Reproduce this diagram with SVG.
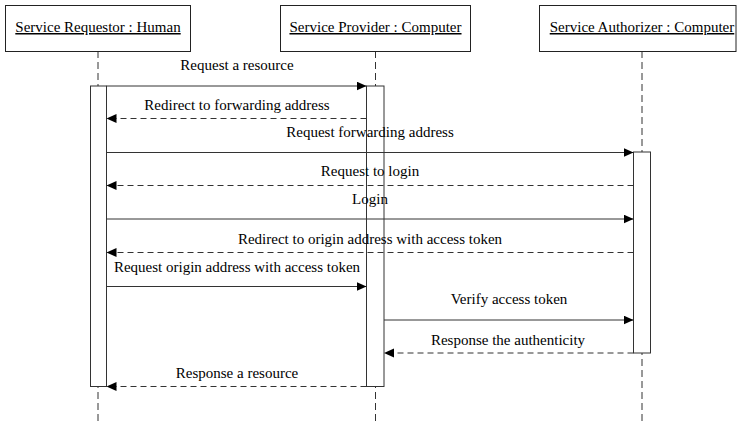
<svg xmlns="http://www.w3.org/2000/svg" width="737" height="421" viewBox="0 0 737 421">
<style>
.box{fill:#fff;stroke:#222;stroke-width:1}
.life{stroke:#333;stroke-width:1;stroke-dasharray:7 4;fill:none}
.bar{fill:#fff;stroke:#333;stroke-width:1}
.msg{stroke:#333;stroke-width:1;fill:none}
.ret{stroke:#333;stroke-width:1;fill:none;stroke-dasharray:6 4}
text{font-family:"Liberation Serif","Times New Roman",serif;font-size:15px;fill:#000}
.hd{text-anchor:middle;text-decoration:underline}
.c{text-anchor:middle}
</style>
<defs>
<marker id="ah" markerUnits="userSpaceOnUse" markerWidth="11" markerHeight="10" refX="10" refY="4.5" orient="auto">
<path d="M0,0 L10,4.5 L0,9 z" fill="#000"/>
</marker>
</defs>
<rect width="737" height="421" fill="#fff"/>
<g id="lifelines">
<line class="life" x1="98" y1="51" x2="98" y2="421"/>
<line class="life" x1="375.5" y1="51" x2="375.5" y2="421"/>
<line class="life" x1="642" y1="51" x2="642" y2="421"/>
</g>
<g id="requestor">
<rect class="box" x="5.5" y="5.5" width="185" height="46"/>
<text class="hd" x="98" y="32">Service Requestor : Human</text>
<rect class="bar" x="90.5" y="86" width="16" height="300.5"/>
</g>
<g id="provider">
<rect class="box" x="280.5" y="5.5" width="190" height="46"/>
<text class="hd" x="375.5" y="32">Service Provider : Computer</text>
<rect class="bar" x="366.5" y="86" width="17.5" height="300.5"/>
</g>
<g id="authorizer">
<rect class="box" x="539.5" y="5.5" width="196.5" height="46"/>
<text class="hd" x="642" y="32">Service Authorizer : Computer</text>
<rect class="bar" x="633.5" y="152" width="17" height="201"/>
</g>
<g id="connectors">
<line class="msg" x1="106.5" y1="86" x2="366.5" y2="86" marker-end="url(#ah)"/>
<text class="c" x="237" y="70">Request a resource</text>
<line class="ret" x1="366.5" y1="118.5" x2="106.5" y2="118.5" marker-end="url(#ah)"/>
<text class="c" x="237" y="110">Redirect to forwarding address</text>
<line class="msg" x1="106.5" y1="152.5" x2="633.5" y2="152.5" marker-end="url(#ah)"/>
<text class="c" x="370" y="137">Request forwarding address</text>
<line class="ret" x1="633.5" y1="185.5" x2="106.5" y2="185.5" marker-end="url(#ah)"/>
<text class="c" x="370" y="176">Request to login</text>
<line class="msg" x1="106.5" y1="219" x2="633.5" y2="219" marker-end="url(#ah)"/>
<text class="c" x="370" y="204">Login</text>
<line class="ret" x1="633.5" y1="252.5" x2="106.5" y2="252.5" marker-end="url(#ah)"/>
<text class="c" x="370" y="244">Redirect to origin address with access token</text>
<line class="msg" x1="106.5" y1="286.5" x2="366.5" y2="286.5" marker-end="url(#ah)"/>
<text class="c" x="237" y="272">Request origin address with access token</text>
<line class="msg" x1="384" y1="320" x2="633.5" y2="320" marker-end="url(#ah)"/>
<text class="c" x="509" y="304">Verify access token</text>
<line class="ret" x1="633.5" y1="353" x2="384" y2="353" marker-end="url(#ah)"/>
<text class="c" x="508" y="345">Response the authenticity</text>
<line class="ret" x1="366.5" y1="386.5" x2="106.5" y2="386.5" marker-end="url(#ah)"/>
<text class="c" x="237" y="378">Response a resource</text>
</g>
</svg>
